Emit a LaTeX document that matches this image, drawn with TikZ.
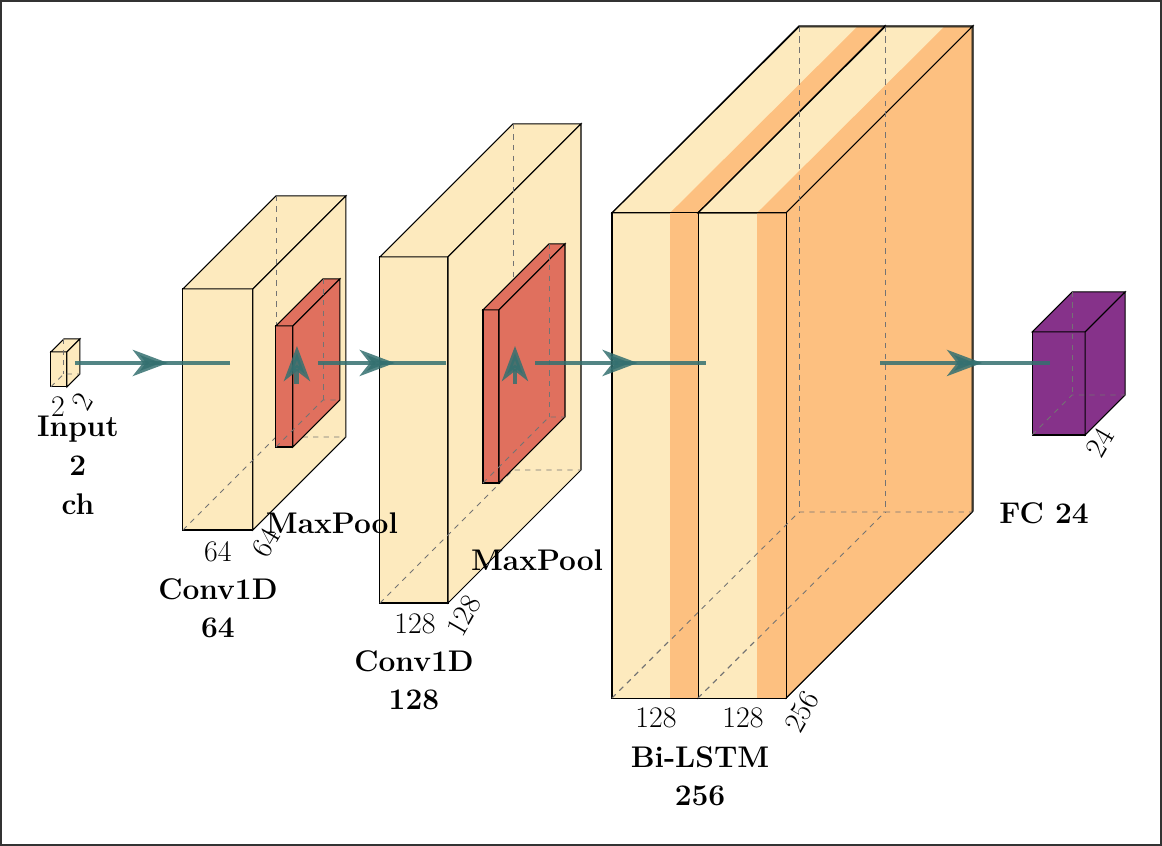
\documentclass[tikz,border=0pt]{standalone}
\usetikzlibrary{arrows.meta,decorations.markings}

\definecolor{convcol}{RGB}{253,234,190}
\definecolor{poolcol}{RGB}{224,112,94}
\definecolor{lstmcol}{RGB}{253,192,128}
\definecolor{fccol}{RGB}{134,50,138}
\definecolor{conncol}{RGB}{52,112,112}

\tikzset{
  face/.style={draw=black, line width=0.6pt},
  hidden/.style={dashed, draw=black!55, line width=0.5pt},
  conn/.style={draw=conncol, opacity=0.85, line width=2.8pt, postaction={decorate},
    decoration={markings, mark=at position 0.6 with {\arrow{Stealth[length=0.7cm,width=0.52cm,inset=0.2cm]}}}},
  uparrow/.style={draw=conncol, opacity=0.85, line width=2.8pt, -{Stealth[length=0.7cm,width=0.52cm,inset=0.2cm]}},
  title/.style={font=\fontsize{17}{22}\selectfont\bfseries, align=center},
  dim/.style={font=\fontsize{17}{20}\selectfont, inner sep=1pt},
}

% box: x, y (front top-left), width, height, depth, fill
\newcommand\layerbox[6]{%
  \filldraw[face, fill=#6] (#1,#2) rectangle ++(#3,#4);
  \filldraw[face, fill=#6] (#1,#2) -- ++(#5,-#5) -- ++(#3,0) -- ++(-#5,#5) -- cycle;
  \filldraw[face, fill=#6] (#1+#3,#2) -- ++(#5,-#5) -- ++(0,#4) -- ++(-#5,#5) -- cycle;
  \draw[hidden] (#1,#2+#4) -- ++(#5,-#5) -- ++(#3,0);
  \draw[hidden] (#1+#5,#2-#5) -- ++(0,#4);
}

\begin{document}
\begin{tikzpicture}[x=0.02cm, y=-0.02cm]

\draw[draw=black!80, line width=1pt, fill=white] (1,1) rectangle (1161,845);

% layers
\layerbox{51}{352}{16}{35}{13}{convcol}
\layerbox{183}{289}{70}{241}{93}{convcol}
\layerbox{276}{326}{17}{121}{47}{poolcol}
\layerbox{380}{257}{68}{346}{133}{convcol}
\layerbox{483}{310}{16}{173}{66}{poolcol}

% bi-lstm slabs
\layerbox{612}{213}{86}{485}{187}{convcol}
\fill[lstmcol] (670,213) rectangle (698,698);
\fill[lstmcol] (670,213) -- (857,27) -- (885,27) -- (698,213) -- cycle;
\draw[face] (612,213) rectangle (698,698);
\draw[face] (612,213) -- (799,27) -- (885,27) -- (698,213);
\layerbox{698}{213}{88}{485}{187}{convcol}
\fill[lstmcol] (757,213) rectangle (786,698);
\fill[lstmcol] (757,213) -- (944,27) -- (972,27) -- (786,213) -- cycle;
\fill[lstmcol] (786,213) -- (972,27) -- (972,512) -- (786,698) -- cycle;
\draw[face] (698,213) rectangle (786,698);
\draw[face] (698,213) -- (885,27) -- (972,27) -- (786,213) -- cycle;
\draw[face] (972,27) -- (972,512) -- (786,698);
\draw[hidden] (698,698) -- (885,512) -- (972,512);
\draw[hidden] (885,27) -- (885,512);
\draw[hidden] (612,698) -- (799,512) -- (885,512);
\draw[hidden] (799,27) -- (799,512);

\layerbox{1032}{332}{53}{103}{40}{fccol}

% connectors
\coordinate (in-e) at (75,363);
\coordinate (c1-w) at (230,363);
\coordinate (p1-e) at (318,363);
\coordinate (c2-w) at (446,363);
\coordinate (p2-e) at (535,363);
\coordinate (l-w) at (706,363);
\coordinate (l-e) at (880,363);
\coordinate (fc-w) at (1050,363);
\coordinate (p1-s) at (297,384);
\coordinate (p1-n) at (297,346);
\coordinate (p2-s) at (515,384);
\coordinate (p2-n) at (515,346);

\draw[conn] (in-e) -- (c1-w);
\draw[conn] (p1-e) -- (c2-w);
\draw[conn] (p2-e) -- (l-w);
\draw[conn] (l-e) -- (fc-w);
\draw[uparrow] (p1-s) -- (p1-n);
\draw[uparrow] (p2-s) -- (p2-n);

% labels
\node[dim] (in-w) at (58,407) {2};
\node[dim, rotate=60] (in-d) at (82,402) {2};
\node[title, anchor=north] (in-t) at (78,410) {Input\\2\\ch};
\node[dim] (c1-w) at (218,552) {64};
\node[dim, rotate=60] (c1-d) at (266,543) {64};
\node[title, anchor=north] (c1-t) at (218,572) {Conv1D\\64};
\node[title] (p1-t) at (332,523) {MaxPool};
\node[dim] (c2-w) at (415,624) {128};
\node[dim, rotate=60] (c2-d) at (464,616) {128};
\node[title, anchor=north] (c2-t) at (414,644) {Conv1D\\128};
\node[title] (p2-t) at (537,560) {MaxPool};
\node[dim] (l1-w) at (656,718) {128};
\node[dim] (l2-w) at (743,718) {128};
\node[dim, rotate=60] (l-d) at (802,712) {256};
\node[title, anchor=north] (l-t) at (700,740) {Bi-LSTM\\256};
\node[dim, rotate=60] (fc-d) at (1100,443) {24};
\node[title] (fc-t) at (1044,513) {FC 24};

\end{tikzpicture}
\end{document}
